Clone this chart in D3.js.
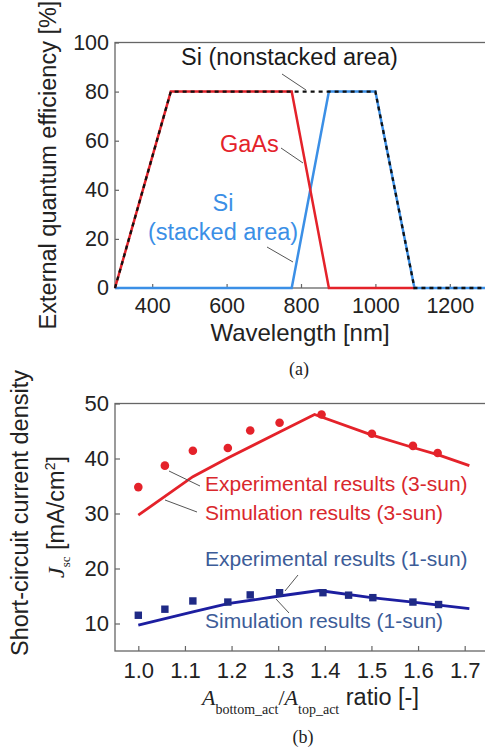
<!DOCTYPE html>
<html>
<head>
<meta charset="utf-8">
<script src="https://cdn.jsdelivr.net/npm/d3@7"></script>
<style>
  body { margin: 0; background: #fff; }
  svg { display: block; font-family: "Liberation Sans", Arial, sans-serif; }
  .axis path { display: none; }
  .axis line { stroke: #666; stroke-width: 1.2; }
  .axis text { fill: #222; }
</style>
</head>
<body>
<svg id="fig" width="485" height="751"></svg>
<script>
/* Data */
// (a) EQE vs wavelength
let wlGaAs = [300, 450, 775, 875, 1105];
let eqeGaAs = [0, 80, 80, 0, 0];
let wlSiStack = [300, 775, 875, 1000, 1105, 1300];
let eqeSiStack = [0, 0, 80, 80, 0, 0];
let wlSiNon = [300, 450, 1000, 1105, 1300];
let eqeSiNon = [0, 80, 80, 0, 0];
let wlTicks = [400, 600, 800, 1000, 1200];
let eqeTicks = [0, 20, 40, 60, 80, 100];

// (b) Jsc vs area ratio
let ratio3Exp = [1.0, 1.057, 1.117, 1.192, 1.24, 1.303, 1.393, 1.501, 1.589, 1.642];
let jsc3Exp = [34.8, 38.7, 41.4, 41.9, 45.1, 46.5, 48.0, 44.5, 42.3, 41.0];
let ratio3Sim = [1.0, 1.117, 1.192, 1.303, 1.378, 1.5, 1.589, 1.642, 1.71];
let jsc3Sim = [29.7, 36.7, 40.1, 44.8, 48.0, 44.3, 42.0, 40.7, 38.7];
let ratio1Exp = [1.0, 1.057, 1.117, 1.192, 1.24, 1.303, 1.396, 1.451, 1.503, 1.589, 1.644];
let jsc1Exp = [11.5, 12.6, 14.1, 13.9, 15.2, 15.6, 15.6, 15.15, 14.7, 13.9, 13.45];
let ratio1Sim = [1.0, 1.117, 1.192, 1.303, 1.388, 1.5, 1.589, 1.71];
let jsc1Sim = [9.7, 12.1, 13.6, 15.0, 16.0, 14.7, 13.9, 12.7];
let ratioTicks = [1.0, 1.1, 1.2, 1.3, 1.4, 1.5, 1.6, 1.7];
let jscTicks = [10, 20, 30, 40, 50];

let red = "#e4222a", lightBlue = "#3b8fe6", navy = "#1c1ea0", navyMark = "#1f2a86",
    navyText = "#3c5c98", redText = "#d9282d", grey = "#555";

let svg = d3.select("#fig");
let zip = (xs, ys) => xs.map((x, i) => [x, ys[i]]);

/* ---------- panel (a) ---------- */
let xA = d3.scaleLinear().domain([300, 1300]).range([115, 487]);
let yA = d3.scaleLinear().domain([0, 100]).range([288, 42.5]);
let gA = svg.append("g");

gA.append("rect")
    .attr("x", xA(300)).attr("y", yA(100))
    .attr("width", xA(1300) - xA(300)).attr("height", yA(0) - yA(100))
    .attr("fill", "none").attr("stroke", "#666").attr("stroke-width", 1.3);

gA.append("g").attr("class", "axis")
    .attr("transform", `translate(0,${yA(0)})`)
    .call(d3.axisBottom(xA).tickValues(wlTicks).tickFormat(d3.format("d")).tickSize(-4).tickPadding(10))
    .selectAll("text").style("font-size", "21.5px");
gA.append("g").attr("class", "axis")
    .attr("transform", `translate(${xA(300)},0)`)
    .call(d3.axisLeft(yA).tickValues(eqeTicks).tickSize(-4).tickPadding(6))
    .selectAll("text").style("font-size", "21.5px");

let lineA = d3.line().x(d => xA(d[0])).y(d => yA(d[1]));
gA.append("path").datum(zip(wlSiStack, eqeSiStack))
    .attr("d", lineA).attr("fill", "none").attr("stroke", lightBlue).attr("stroke-width", 2.5);
gA.append("path").datum(zip(wlGaAs, eqeGaAs))
    .attr("d", lineA).attr("fill", "none").attr("stroke", red).attr("stroke-width", 2.5);
gA.append("path").datum(zip(wlSiNon, eqeSiNon))
    .attr("d", lineA).attr("fill", "none").attr("stroke", "#111").attr("stroke-width", 2.3)
    .attr("stroke-dasharray", "4,4");

// labels + leaders
function leader(g, x1, y1, x2, y2) {
    g.append("line").attr("x1", x1).attr("y1", y1).attr("x2", x2).attr("y2", y2)
        .attr("stroke", grey).attr("stroke-width", 1);
}
let noteA = "23.5px";
gA.append("text").attr("x", 181).attr("y", 65).attr("fill", "#1a1a1a")
    .style("font-size", noteA).text("Si (nonstacked area)");
leader(gA, 282, 74, 306, 90);
gA.append("text").attr("x", 220).attr("y", 152).attr("fill", red)
    .style("font-size", noteA).text("GaAs");
leader(gA, 281, 148, 303, 163);
gA.append("text").attr("x", 223).attr("y", 211).attr("fill", lightBlue)
    .attr("text-anchor", "middle").style("font-size", noteA).text("Si");
gA.append("text").attr("x", 223).attr("y", 240).attr("fill", lightBlue)
    .attr("text-anchor", "middle").style("font-size", noteA).text("(stacked area)");
leader(gA, 267, 247, 293, 262);

gA.append("text").attr("x", 300).attr("y", 341).attr("text-anchor", "middle")
    .style("font-size", "24px").attr("fill", "#222").text("Wavelength [nm]");
gA.append("text").attr("transform", "translate(56,165) rotate(-90)")
    .attr("text-anchor", "middle").style("font-size", "23.5px").attr("fill", "#222")
    .text("External quantum efficiency [%]");
gA.append("text").attr("x", 299).attr("y", 375).attr("text-anchor", "middle")
    .style("font-family", "'Liberation Serif', 'Times New Roman', serif")
    .style("font-size", "18px").attr("fill", "#222").text("(a)");

/* ---------- panel (b) ---------- */
let xB = d3.scaleLinear().domain([0.95, 1.75]).range([115, 488]);
let yB = d3.scaleLinear().domain([5, 50]).range([651, 403.5]);
let gB = svg.append("g");

gB.append("rect")
    .attr("x", xB(0.95)).attr("y", yB(50))
    .attr("width", xB(1.75) - xB(0.95)).attr("height", yB(5) - yB(50))
    .attr("fill", "none").attr("stroke", "#666").attr("stroke-width", 1.3);

gB.append("g").attr("class", "axis")
    .attr("transform", `translate(0,${yB(5)})`)
    .call(d3.axisBottom(xB).tickValues(ratioTicks).tickFormat(d3.format(".1f")).tickSize(-5).tickPadding(11))
    .selectAll("text").style("font-size", "22px");
gB.append("g").attr("class", "axis")
    .attr("transform", `translate(${xB(0.95)},0)`)
    .call(d3.axisLeft(yB).tickValues(jscTicks).tickSize(-5).tickPadding(6))
    .selectAll("text").style("font-size", "22px");

let lineB = d3.line().x(d => xB(d[0])).y(d => yB(d[1]));
gB.append("path").datum(zip(ratio3Sim, jsc3Sim))
    .attr("d", lineB).attr("fill", "none").attr("stroke", red).attr("stroke-width", 2.8);
gB.append("path").datum(zip(ratio1Sim, jsc1Sim))
    .attr("d", lineB).attr("fill", "none").attr("stroke", navy).attr("stroke-width", 2.8);

gB.selectAll("circle.exp3").data(zip(ratio3Exp, jsc3Exp)).enter()
    .append("circle").attr("class", "exp3")
    .attr("cx", d => xB(d[0])).attr("cy", d => yB(d[1])).attr("r", 4.3).attr("fill", red);
gB.selectAll("rect.exp1").data(zip(ratio1Exp, jsc1Exp)).enter()
    .append("rect").attr("class", "exp1")
    .attr("x", d => xB(d[0]) - 3.7).attr("y", d => yB(d[1]) - 3.7)
    .attr("width", 7.4).attr("height", 7.4).attr("fill", navyMark);

let noteSize = "21px";
gB.append("text").attr("x", 205).attr("y", 491).attr("fill", redText)
    .style("font-size", noteSize).text("Experimental results (3-sun)");
gB.append("text").attr("x", 205).attr("y", 520).attr("fill", redText)
    .style("font-size", noteSize).text("Simulation results (3-sun)");
gB.append("text").attr("x", 205).attr("y", 566).attr("fill", navyText)
    .style("font-size", noteSize).text("Experimental results (1-sun)");
gB.append("text").attr("x", 205).attr("y", 628).attr("fill", navyText)
    .style("font-size", noteSize).text("Simulation results (1-sun)");
leader(gB, 169, 471, 200, 486);
leader(gB, 165, 500, 197, 512);
leader(gB, 298, 575, 285, 591);
leader(gB, 276, 599, 289, 613);

// axis titles
let serif = "'Liberation Serif', 'Times New Roman', serif";
let xt = gB.append("text").attr("x", 202).attr("y", 705).attr("fill", "#222");
xt.append("tspan").style("font-family", serif).style("font-style", "italic")
    .style("font-size", "22px").text("A");
xt.append("tspan").style("font-family", serif).style("font-size", "14px")
    .attr("dy", 9).text("bottom_act");
xt.append("tspan").style("font-family", serif).style("font-size", "22px")
    .attr("dy", -9).text("/");
xt.append("tspan").style("font-family", serif).style("font-style", "italic")
    .style("font-size", "22px").text("A");
xt.append("tspan").style("font-family", serif).style("font-size", "14px")
    .attr("dy", 9).text("top_act");
xt.append("tspan").style("font-size", "23.5px").attr("dy", -9).text(" ratio [-]");

gB.append("text").attr("transform", "translate(28,513) rotate(-90)")
    .attr("text-anchor", "middle").style("font-size", "23.5px").attr("fill", "#222")
    .text("Short-circuit current density");
let yt = gB.append("text").attr("transform", "translate(64,517) rotate(-90)")
    .attr("text-anchor", "middle").attr("fill", "#222");
yt.append("tspan").style("font-family", serif).style("font-style", "italic")
    .style("font-size", "24px").text("J");
yt.append("tspan").style("font-family", serif).style("font-size", "13px")
    .attr("dy", 6).text("sc");
yt.append("tspan").style("font-size", "23.5px").attr("dy", -6).text(" [mA/cm");
yt.append("tspan").style("font-size", "14px").attr("dy", -9).text("2");
yt.append("tspan").style("font-size", "23.5px").attr("dy", 9).text("]");

gB.append("text").attr("x", 303).attr("y", 743).attr("text-anchor", "middle")
    .style("font-family", serif).style("font-size", "18px").attr("fill", "#222").text("(b)");
</script>
</body>
</html>
